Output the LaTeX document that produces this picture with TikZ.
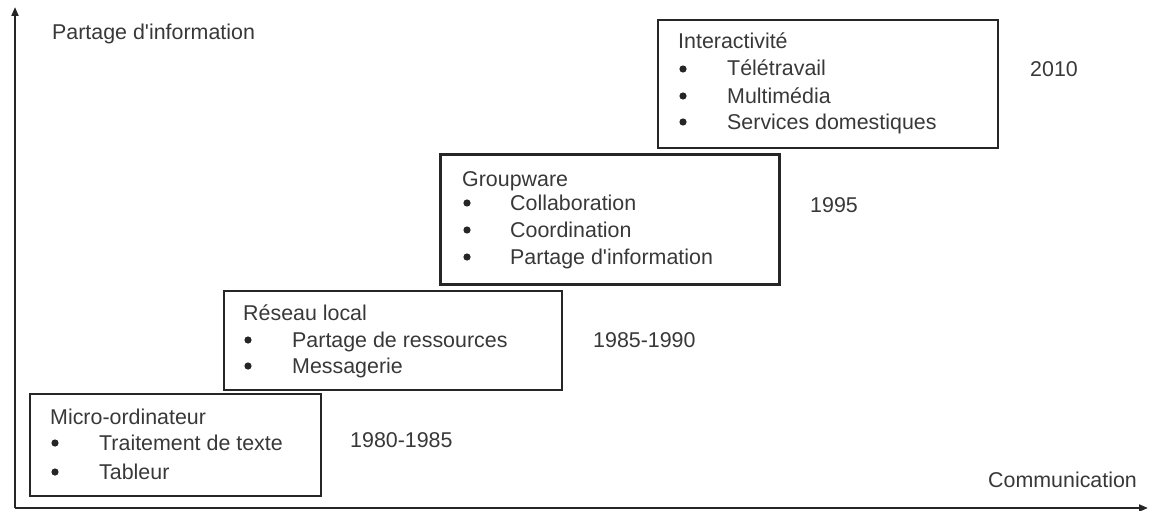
\documentclass[tikz,border=0pt]{standalone}
\usepackage{fontspec}
\newfontfamily\lsans{Liberation Sans}
\usetikzlibrary{arrows.meta}
\definecolor{ink}{gray}{0.22}
\definecolor{edge}{gray}{0.15}
\begin{document}
\begin{tikzpicture}[x=1pt,y=-1pt,
 box/.style={draw=edge,line width=2.4pt,inner sep=0pt,anchor=north west},
 lbl/.style={inner sep=0pt,anchor=base west,text=ink,font=\lsans\fontsize{21.4}{25}\selectfont},
 dot/.style={circle,fill=edge,inner sep=0pt,minimum size=7.2pt},
 axis/.style={draw=edge,line width=2pt,-{Triangle[length=9pt,width=7pt]}}]
\useasboundingbox (0,0) rectangle (1149,511);
% axes
\coordinate (o) at (15,508);
\coordinate (ytop) at (15,7);
\coordinate (xend) at (1148,508);
\draw[axis] (o) -- (ytop);
\draw[axis] (o) -- (xend);
\node[lbl] (ylab) at (52,40) {Partage d'information};
\node[lbl] (xlab) at (988,487) {Communication};
% boxes
\node[box,minimum width=291pt,minimum height=102pt] (micro) at (29,393) {};
\node[box,minimum width=338pt,minimum height=99pt] (reseau) at (223,290) {};
\node[box,minimum width=339pt,minimum height=130pt,line width=2.8pt] (group) at (439,153) {};
\node[box,minimum width=340pt,minimum height=128pt,line width=2pt] (inter) at (657,19) {};
% micro
\node[lbl] (m0) at (50,424) {Micro-ordinateur};
\node[dot] (md1) at (55,443) {};
\node[lbl] (m1) at (99,450) {Traitement de texte};
\node[dot] (md2) at (55,472) {};
\node[lbl] (m2) at (99,479) {Tableur};
\node[lbl] (y1) at (350,447) {1980-1985};
% reseau
\node[lbl] (r0) at (243,320) {Réseau local};
\node[dot] (rd1) at (248,340) {};
\node[lbl] (r1) at (292,347) {Partage de ressources};
\node[dot] (rd2) at (248,366) {};
\node[lbl] (r2) at (292,373) {Messagerie};
\node[lbl] (y2) at (593,347) {1985-1990};
% groupware
\node[lbl] (g0) at (462,186) {Groupware};
\node[dot] (gd1) at (467,203) {};
\node[lbl] (g1) at (510,210) {Collaboration};
\node[dot] (gd2) at (467,230) {};
\node[lbl] (g2) at (510,237) {Coordination};
\node[dot] (gd3) at (467,257) {};
\node[lbl] (g3) at (510,264) {Partage d'information};
\node[lbl] (y3) at (810,212) {1995};
% interactivite
\node[lbl] (i0) at (678,49) {Interactivité};
\node[dot] (id1) at (683,69) {};
\node[lbl] (i1) at (727,76) {Télétravail};
\node[dot] (id2) at (683,96) {};
\node[lbl] (i2) at (727,103) {Multimédia};
\node[dot] (id3) at (683,122) {};
\node[lbl] (i3) at (727,129) {Services domestiques};
\node[lbl] (y4) at (1030,77) {2010};
\end{tikzpicture}
\end{document}
